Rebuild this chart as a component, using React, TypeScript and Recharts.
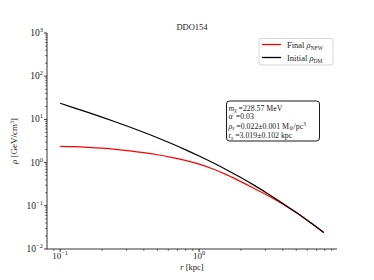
import React from 'react';
import { LineChart, Line, XAxis, YAxis } from 'recharts';

// radius in kpc
const rValues = [0.1, 0.1259, 0.1585, 0.1995, 0.2512, 0.3162, 0.3981, 0.5012, 0.631, 0.7943, 1.0, 1.259, 1.585, 1.995, 2.512, 3.162, 3.981, 5.012, 6.31, 7.89];
// Final rho_NFW (GeV/cm^3)
const finalNFW = [2.38, 2.34, 2.26, 2.16, 2.03, 1.875, 1.706, 1.521, 1.327, 1.125, 0.92, 0.711, 0.519, 0.363, 0.249, 0.168, 0.1102, 0.0689, 0.0409, 0.024];
// Initial rho_DM (GeV/cm^3)
const initialDM = [23.6, 18.53, 14.49, 11.27, 8.71, 6.67, 5.05, 3.77, 2.77, 2.0, 1.419, 0.989, 0.675, 0.45, 0.293, 0.186, 0.1153, 0.0697, 0.041, 0.024];

const xMajorTicks = [0.1, 1];
const xMinorTicks = [0.09, 0.2, 0.3, 0.4, 0.5, 0.6, 0.7, 0.8, 0.9, 2, 3, 4, 5, 6, 7, 8, 9];
const yMajorTicks = [0.01, 0.1, 1, 10, 100, 1000];
const yMinorTicks = [
  0.02, 0.03, 0.04, 0.05, 0.06, 0.07, 0.08, 0.09,
  0.2, 0.3, 0.4, 0.5, 0.6, 0.7, 0.8, 0.9,
  2, 3, 4, 5, 6, 7, 8, 9,
  20, 30, 40, 50, 60, 70, 80, 90,
  200, 300, 400, 500, 600, 700, 800, 900,
];

const data = rValues.map((r, i) => ({ r, finalNFW: finalNFW[i], initialDM: initialDM[i] }));

const FONT = '"Liberation Serif", "DejaVu Serif", serif';

const isMajor = (v: number) => Math.abs(Math.log10(v) - Math.round(Math.log10(v))) < 1e-6;
const expLabel = (v: number) => {
  const e = Math.round(Math.log10(v));
  return e < 0 ? '\u2212' + -e : String(e);
};

const XTick = (props: any) => {
  const { x, y, payload } = props;
  const v = payload.value;
  const major = isMajor(v);
  return (
    <g>
      <line x1={x} x2={x} y1={y} y2={y + (major ? 3 : 1.8)} stroke="#000" strokeWidth={major ? 0.8 : 0.6} />
      {major && (
        <text x={x} y={y + 10} textAnchor="middle" fontFamily={FONT} fontSize={9} fill="#222">
          10<tspan dy={-4} fontSize={6.2}>{expLabel(v)}</tspan>
        </text>
      )}
    </g>
  );
};

const YTick = (props: any) => {
  const { x, y, payload } = props;
  const v = payload.value;
  const major = isMajor(v);
  return (
    <g>
      <line x1={x - (major ? 3 : 1.8)} x2={x} y1={y} y2={y} stroke="#000" strokeWidth={major ? 0.8 : 0.6} />
      {major && (
        <text x={x - 4} y={y + 3} textAnchor="end" fontFamily={FONT} fontSize={9.5} fill="#222">
          10<tspan dy={-4} fontSize={6.5}>{expLabel(v)}</tspan>
        </text>
      )}
    </g>
  );
};

export default function App() {
  const W = 358;
  const H = 264;
  return (
    <div style={{ position: 'relative', width: W, height: H }}>
      <LineChart width={W} height={H} data={data} margin={{ top: 25, right: 29, bottom: 0, left: 9 }}>
        <XAxis
          dataKey="r"
          type="number"
          scale="log"
          domain={[0.0804, 9.82]}
          allowDataOverflow
          ticks={[...xMinorTicks, ...xMajorTicks]}
          interval={0}
          tick={<XTick />}
          tickLine={false}
          tickSize={0}
          tickMargin={0}
          height={23}
          axisLine={{ stroke: '#000', strokeWidth: 0.8 }}
        />
        <XAxis
          xAxisId="top"
          orientation="top"
          dataKey="r"
          type="number"
          scale="log"
          domain={[0.0804, 9.82]}
          allowDataOverflow
          tick={false}
          tickLine={false}
          height={0}
          axisLine={{ stroke: '#000', strokeWidth: 0.8 }}
        />
        <YAxis
          type="number"
          scale="log"
          domain={[0.01, 1000]}
          allowDataOverflow
          ticks={[...yMinorTicks, ...yMajorTicks]}
          interval={0}
          tick={<YTick />}
          tickLine={false}
          tickSize={0}
          tickMargin={0}
          width={30}
          axisLine={{ stroke: '#000', strokeWidth: 0.8 }}
        />
        <YAxis
          yAxisId="right"
          orientation="right"
          type="number"
          scale="log"
          domain={[0.01, 1000]}
          allowDataOverflow
          tick={false}
          tickLine={false}
          width={0}
          axisLine={{ stroke: '#000', strokeWidth: 0.8 }}
        />
        <Line
          dataKey="finalNFW"
          type="monotone"
          stroke="#ff0000"
          strokeWidth={1.2}
          dot={false}
          isAnimationActive={false}
        />
        <Line
          dataKey="initialDM"
          type="monotone"
          stroke="#000000"
          strokeWidth={1.2}
          dot={false}
          isAnimationActive={false}
        />
      </LineChart>
      <svg
        width={W}
        height={H}
        style={{ position: 'absolute', left: 0, top: 0, pointerEvents: 'none' }}
        fontFamily={FONT}
      >
        <text x={184} y={22} textAnchor="middle" fontSize={8.5} fill="#222">DDO154</text>
        <text x={184} y={262} textAnchor="middle" fontSize={8.5} fill="#222">
          <tspan fontStyle="italic">r</tspan> [kpc]
        </text>
        <text x={9} y={133} textAnchor="middle" fontSize={9} fill="#222" transform="rotate(-90, 9, 133)">
          <tspan fontStyle="italic">ρ</tspan> [GeV/cm<tspan dy={-3.5} fontSize={6}>3</tspan><tspan dy={3.5}>]</tspan>
        </text>

        {/* legend */}
        <rect x={251} y={30.5} width={74} height={26.5} rx={2} ry={2} fill="#fff" fillOpacity={0.8} stroke="#cccccc" strokeWidth={0.8} />
        <line x1={254} x2={273} y1={36.5} y2={36.5} stroke="#ff0000" strokeWidth={1.3} />
        <text x={279} y={39.5} fontSize={8.5} fill="#222">
          Final <tspan fontStyle="italic">ρ</tspan><tspan dy={2} fontSize={5.5}>NFW</tspan>
        </text>
        <line x1={254} x2={273} y1={49.5} y2={49.5} stroke="#000000" strokeWidth={1.3} />
        <text x={279} y={52.5} fontSize={8.5} fill="#222">
          Initial <tspan fontStyle="italic">ρ</tspan><tspan dy={2} fontSize={5.5}>DM</tspan>
        </text>

        {/* annotation */}
        <rect x={218.5} y={93} width={93} height={40} rx={3} ry={3} fill="#fff" stroke="#000" strokeWidth={0.9} />
        <text x={220.5} y={102.5} fontSize={7.8} fill="#222">
          <tspan fontStyle="italic">m</tspan><tspan dy={1.5} fontSize={5.5}>χ</tspan><tspan dy={-1.5}> =228.57 MeV</tspan>
        </text>
        <text x={220.5} y={111} fontSize={7.8} fill="#222">
          <tspan fontStyle="italic">α</tspan><tspan dy={-2.5} fontSize={5.5}>′</tspan><tspan dy={2.5}> =0.03</tspan>
        </text>
        <text x={220.5} y={120.5} fontSize={7.8} fill="#222">
          <tspan fontStyle="italic">ρ</tspan><tspan dy={1.5} fontSize={5.5} fontStyle="italic">s</tspan><tspan dy={-1.5}> =0.022±0.001 M</tspan><tspan dy={1.5} fontSize={5.5}>⊙</tspan><tspan dy={-1.5}>/pc</tspan><tspan dy={-2.5} fontSize={5.5}>3</tspan>
        </text>
        <text x={220.5} y={130} fontSize={7.8} fill="#222">
          r<tspan dy={1.5} fontSize={5.5} fontStyle="italic">s</tspan><tspan dy={-1.5}> =3.019±0.102 kpc</tspan>
        </text>
      </svg>
    </div>
  );
}
